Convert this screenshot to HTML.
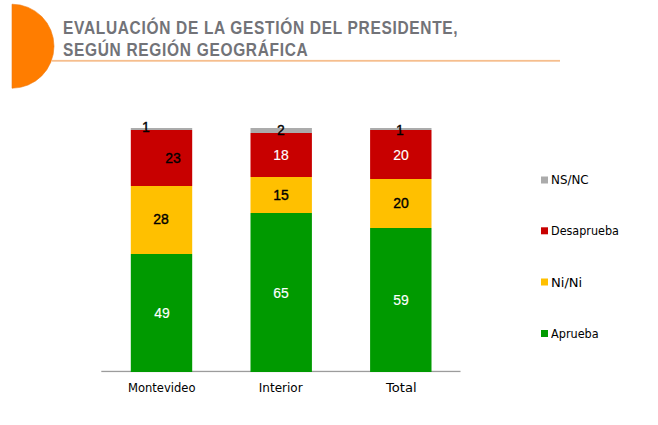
<!DOCTYPE html>
<html>
<head>
<meta charset="utf-8">
<title>Evaluación de la gestión del presidente, según región geográfica</title>
<style>
html,body{margin:0;padding:0;background:#fff;}
body{width:658px;height:425px;position:relative;overflow:hidden;font-family:"Liberation Sans",Arial,sans-serif;}
svg.bg{position:absolute;left:0;top:0;}
.a{position:absolute;}
.title{left:63.4px;color:#727378;font-weight:bold;letter-spacing:0.8px;word-spacing:0px;font-size:18px;line-height:18px;white-space:nowrap;transform-origin:0 0;}
.num{position:absolute;width:40px;text-align:center;font-size:15.5px;line-height:15.5px;white-space:nowrap;color:#000;-webkit-text-stroke:0.4px #000;transform-origin:50% 50%;}
.w{color:#fff;-webkit-text-stroke:0.15px #fff;}
.lab{position:absolute;font-family:"DejaVu Sans",sans-serif;font-size:12px;line-height:12px;color:#000;white-space:nowrap;transform-origin:0 0;}
</style>
</head>
<body>

<svg class="bg" width="658" height="425" viewBox="0 0 658 425">
<path d="M12,4.20 A42,42 0 0 1 12,88.20 Z" fill="#ff7d00" stroke="#ee7a12" stroke-width="0.6"/>
<rect x="52" y="59.9" width="508" height="1.8" fill="#f6be8e"/>
<rect x="101.3" y="370.8" width="359.2" height="1.3" fill="#9c9c9c"/>
<rect x="130.8" y="128" width="61.4" height="2" fill="#ababab"/>
<rect x="130.8" y="130" width="61.4" height="56" fill="#c80000"/>
<rect x="130.8" y="186" width="61.4" height="68" fill="#ffc000"/>
<rect x="130.8" y="254" width="61.4" height="118" fill="#009a00"/>
<rect x="250.5" y="128" width="61.4" height="5" fill="#ababab"/>
<rect x="250.5" y="133" width="61.4" height="44" fill="#c80000"/>
<rect x="250.5" y="177" width="61.4" height="36" fill="#ffc000"/>
<rect x="250.5" y="213" width="61.4" height="159" fill="#009a00"/>
<rect x="370.1" y="128" width="61.4" height="2" fill="#ababab"/>
<rect x="370.1" y="130" width="61.4" height="49" fill="#c80000"/>
<rect x="370.1" y="179" width="61.4" height="49" fill="#ffc000"/>
<rect x="370.1" y="228" width="61.4" height="144" fill="#009a00"/>
<rect x="541" y="176.5" width="7" height="7" fill="#ababab"/>
<rect x="541" y="227.3" width="7" height="7" fill="#c80000"/>
<rect x="541" y="278.5" width="7" height="7" fill="#ffc000"/>
<rect x="541" y="330" width="7" height="7" fill="#009a00"/>
</svg>
<div class="a title" style="top:19.2px;transform:scaleX(0.86);">EVALUACIÓN DE LA GESTIÓN DEL PRESIDENTE,</div>
<div class="a title" style="top:40.7px;transform:scaleX(0.86);">SEGÚN REGIÓN GEOGRÁFICA</div>
<div class="num" style="left:125.60px;top:118.57px;transform:scaleX(0.9);">1</div>
<div class="num" style="left:153.42px;top:150.43px;transform:scaleX(0.9);">23</div>
<div class="num" style="left:141.06px;top:211.45px;transform:scaleX(0.9);">28</div>
<div class="num w" style="left:141.94px;top:304.95px;transform:scaleX(0.9);">49</div>
<div class="num" style="left:260.62px;top:122.47px;transform:scaleX(0.9);">2</div>
<div class="num w" style="left:261.06px;top:146.61px;transform:scaleX(0.9);">18</div>
<div class="num" style="left:261.08px;top:187.49px;transform:scaleX(0.9);">15</div>
<div class="num w" style="left:261.00px;top:284.95px;transform:scaleX(0.9);">65</div>
<div class="num" style="left:379.68px;top:122.49px;transform:scaleX(0.9);">1</div>
<div class="num w" style="left:380.94px;top:146.55px;transform:scaleX(0.9);">20</div>
<div class="num" style="left:380.56px;top:195.47px;transform:scaleX(0.9);">20</div>
<div class="num w" style="left:380.58px;top:292.07px;transform:scaleX(0.9);">59</div>
<div class="lab" style="left:128.4px;top:382.0px;transform:scaleX(0.962);">Montevideo</div>
<div class="lab" style="left:258.8px;top:382.0px;">Interior</div>
<div class="lab" style="left:385.6px;top:382.0px;transform:scaleX(1.09);">Total</div>
<div class="lab" style="left:551.2px;top:173.7px;transform:scaleX(0.99);">NS/NC</div>
<div class="lab" style="left:551.2px;top:224.6px;transform:scaleX(0.934);">Desaprueba</div>
<div class="lab" style="left:551.2px;top:276.7px;transform:scaleX(1.09);">Ni/Ni</div>
<div class="lab" style="left:551.2px;top:327.5px;transform:scaleX(0.94);">Aprueba</div>
</body>
</html>
